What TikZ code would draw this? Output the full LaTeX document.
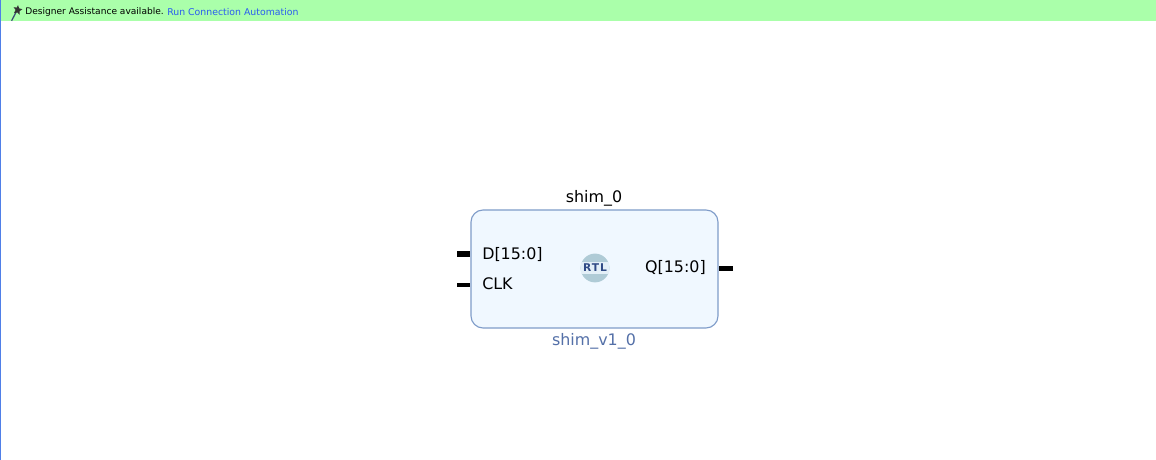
\documentclass[tikz,border=0pt]{standalone}
\usepackage{fontspec}
\setmainfont{DejaVu Sans}
\usepackage{tikz}
\usetikzlibrary{calc}
\definecolor{bannergreen}{HTML}{AAFFAA}
\definecolor{linkblue}{HTML}{2A5CF0}
\definecolor{edgeblue}{HTML}{4F7FE8}
\definecolor{blockfill}{HTML}{F0F8FF}
\definecolor{blockedge}{HTML}{7F9CC9}
\definecolor{typeblue}{HTML}{5470A8}
\definecolor{rtlcap}{HTML}{AFCBD6}
\definecolor{rtltext}{HTML}{2F4A85}

\begin{document}
\begin{tikzpicture}[
    banner/.style={rectangle, fill=bannergreen, minimum width=28.9cm, minimum height=0.525cm, inner sep=0pt},
    bannertext/.style={anchor=west, inner sep=0pt, font=\fontsize{6.45}{8}\selectfont},
    block/.style={rectangle, rounded corners=0.3cm, draw=blockedge, line width=0.8pt, fill=blockfill,
                  minimum width=6.175cm, minimum height=2.95cm, inner sep=0pt},
    lbl/.style={inner sep=0pt, font=\fontsize{11.3}{13}\selectfont},
    rtlbadge/.style={circle, fill=rtlcap, minimum size=0.72cm, inner sep=0pt},
    bus/.style={draw=black, line width=3.6pt},
    wire/.style={draw=black, line width=2.2pt}
]
\useasboundingbox (0,0) rectangle (28.9,11.5);
\fill[white] (0,0) rectangle (28.9,11.5);
% banner along the top
\node[banner] (banner) at (14.45cm,11.2375cm) {};
\draw[edgeblue, line width=1.1pt] (0.015,0) -- (0.015,11.5);
\node[bannertext] (hint) at (0.625cm,11.2cm) {Designer Assistance available.};
\node[bannertext, text=linkblue, font=\fontsize{6.65}{8}\selectfont] (link) at (4.175cm,11.2cm) {Run Connection Automation};
% wand icon
\draw[typeblue!70!black, line width=0.9pt] (0.29,10.98) -- (0.44,11.27);
\fill[black!80] (0.45,11.37) -- (0.48,11.29) -- (0.56,11.27) -- (0.49,11.22) -- (0.49,11.13) -- (0.43,11.19) -- (0.35,11.17) -- (0.39,11.25) -- (0.34,11.32) -- (0.42,11.31) -- cycle;
% the block and its labels
\node[block] (shim) at (14.8625cm,4.775cm) {};
\node[lbl] (name) at (14.85cm,6.55cm) {shim\_0};
\node[lbl, text=typeblue] (type) at (14.85cm,2.975cm) {shim\_v1\_0};
\node[lbl, anchor=west] (D) at (12.05cm,5.14cm) {D[15:0]};
\node[lbl, anchor=west] (CLK) at (12.05cm,4.4cm) {CLK};
\node[lbl, anchor=east] (Q) at (17.65cm,4.8cm) {Q[15:0]};
% RTL badge
\node[rtlbadge] (rtl) at (14.875cm,4.8cm) {};
\fill[blockfill!80!rtlcap] ($(rtl)+(-0.345,-0.15)$) rectangle ($(rtl)+(0.345,0.15)$);
\node[inner sep=0pt, text=rtltext, font=\fontsize{7.6}{9}\bfseries\selectfont\addfontfeatures{LetterSpace=9}] (rtltxt) at (rtl) {RTL};
% port stubs
\coordinate (Dpin) at (11.425cm,5.15cm);
\coordinate (CLKpin) at (11.425cm,4.375cm);
\coordinate (Qpin) at (18.325cm,4.78cm);
\draw[bus] (Dpin) -- (Dpin -| shim.west);
\draw[wire] (CLKpin) -- (CLKpin -| shim.west);
\draw[bus] (Qpin) -- (Qpin -| shim.east);
\end{tikzpicture}
\end{document}
